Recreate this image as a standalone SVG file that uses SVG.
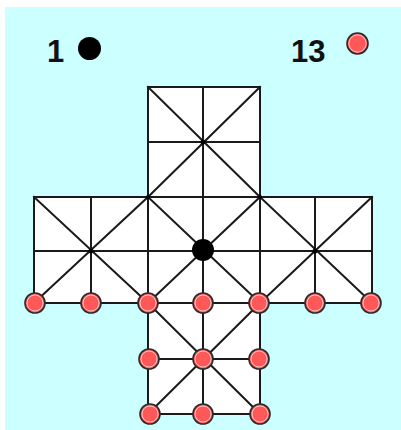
<svg xmlns="http://www.w3.org/2000/svg" width="401" height="430" viewBox="0 0 401 430">
<style>
.ln{stroke:#1a1a1a;stroke-width:2;fill:none;stroke-linecap:square}
.red{fill:#ff5858;stroke:#2a2a2a;stroke-width:1.6}
.ring{fill:none;stroke:#ffc0c0;stroke-width:1}
.blk{fill:#000}
.lbl{font-family:"Liberation Sans",Arial,sans-serif;font-weight:bold;font-size:31px;fill:#111}
</style>
<rect x="0" y="0" width="401" height="430" fill="#fff"/>
<rect x="5" y="7" width="396" height="423" fill="#ccffff"/>
<path d="M148,87H260V197H372V303H260V414H148V303H34V197H148Z" fill="#fff"/>
<g id="connectors">
<path class="ln" d="M148,87H260M148,142H260M34,197H372M34,251H372M34,303H372M148,359H260M148,414H260"/>
<path class="ln" d="M148,87V414M203,87V414M260,87V414M34,197V303M91,197V303M315,197V303M372,197V303"/>
<path class="ln" d="M148,87L260,197M260,87L148,197M34,197L148,303M148,197L34,303M148,197L260,303M260,197L148,303M260,197L372,303M372,197L260,303M148,303L260,414M260,303L148,414"/>
<g class="blk"><circle cx="91" cy="251" r="2.5"/><circle cx="315" cy="251" r="2.5"/><circle cx="203" cy="142" r="2.5"/><circle cx="148" cy="197" r="2"/><circle cx="260" cy="197" r="2"/></g>
</g>
<g id="legend-black"><text class="lbl" x="47" y="62">1</text><circle class="blk" cx="89.5" cy="48.5" r="11.5"/></g>
<g id="legend-red"><text class="lbl" x="291" y="62">13</text><circle class="red" cx="357.5" cy="43.5" r="10.5"/><circle class="ring" cx="357.5" cy="43.5" r="8.6"/></g>
<g id="black-piece"><circle class="blk" cx="203" cy="250" r="11"/></g>
<g id="red-pieces">
<g id="r1"><circle class="red" cx="35" cy="303" r="10"/><circle class="ring" cx="35" cy="303" r="8"/></g>
<g id="r2"><circle class="red" cx="91" cy="303" r="10"/><circle class="ring" cx="91" cy="303" r="8"/></g>
<g id="r3"><circle class="red" cx="148" cy="303" r="10"/><circle class="ring" cx="148" cy="303" r="8"/></g>
<g id="r4"><circle class="red" cx="203" cy="303" r="10"/><circle class="ring" cx="203" cy="303" r="8"/></g>
<g id="r5"><circle class="red" cx="259" cy="303" r="10"/><circle class="ring" cx="259" cy="303" r="8"/></g>
<g id="r6"><circle class="red" cx="315" cy="303" r="10"/><circle class="ring" cx="315" cy="303" r="8"/></g>
<g id="r7"><circle class="red" cx="371" cy="303" r="10"/><circle class="ring" cx="371" cy="303" r="8"/></g>
<g id="r8"><circle class="red" cx="149" cy="359" r="10"/><circle class="ring" cx="149" cy="359" r="8"/></g>
<g id="r9"><circle class="red" cx="203" cy="359" r="10"/><circle class="ring" cx="203" cy="359" r="8"/></g>
<g id="r10"><circle class="red" cx="259" cy="359" r="10"/><circle class="ring" cx="259" cy="359" r="8"/></g>
<g id="r11"><circle class="red" cx="150" cy="414" r="10"/><circle class="ring" cx="150" cy="414" r="8"/></g>
<g id="r12"><circle class="red" cx="203" cy="414" r="10"/><circle class="ring" cx="203" cy="414" r="8"/></g>
<g id="r13"><circle class="red" cx="260" cy="414" r="10"/><circle class="ring" cx="260" cy="414" r="8"/></g>
</g>
</svg>
